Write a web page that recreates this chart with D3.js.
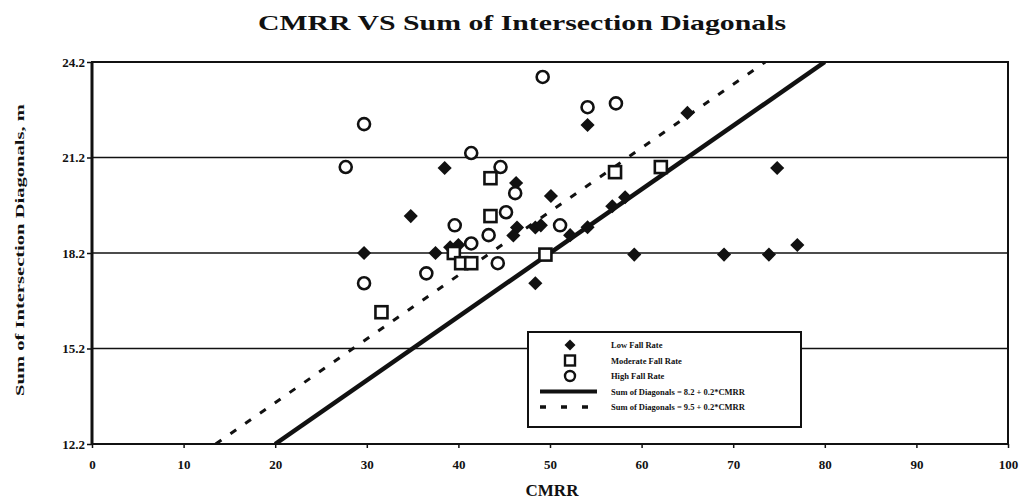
<!DOCTYPE html>
<html>
<head>
<meta charset="utf-8">
<script src="https://cdn.jsdelivr.net/npm/d3@7"></script>
<style>
    body { margin: 0; background: #fff; }
    text { font-family: "Liberation Serif", "DejaVu Serif", serif; font-weight: bold; fill: #111; }
</style>
</head>
<body>
<div id="chart"></div>
<script>
// fall rate groups: [CMRR, sum of diagonals]
var lowFall = [
    [29.7, 18.2], [34.8, 19.36], [37.5, 18.2], [38.5, 20.87], [39.1, 18.38],
    [40.0, 18.45], [46.3, 20.4], [46.4, 19.0], [46.0, 18.75], [48.4, 19.0],
    [49.0, 19.07], [50.1, 19.99], [52.2, 18.76], [54.1, 19.01], [48.4, 17.25],
    [54.1, 22.22], [56.8, 19.67], [58.2, 19.95], [59.2, 18.15], [65.0, 22.6],
    [69.0, 18.15], [73.9, 18.15], [74.8, 20.87], [77.0, 18.45]
];
var moderateFall = [
    [31.6, 16.34], [39.5, 18.2], [40.3, 17.88], [41.4, 17.88], [43.5, 19.36],
    [43.5, 20.55], [49.5, 18.15], [57.1, 20.74], [62.1, 20.9]
];
var highFall = [
    [27.7, 20.9], [29.7, 22.25], [29.7, 17.25], [36.5, 17.56], [39.6, 19.07],
    [41.4, 18.5], [41.4, 21.34], [44.6, 20.9], [43.3, 18.76], [44.3, 17.88],
    [45.2, 19.48], [46.2, 20.08], [49.2, 23.73], [51.1, 19.07], [54.1, 22.78],
    [57.2, 22.9]
];

// fitted lines: intercept + slope * CMRR
var solidFit = { a: 8.2, b: 0.2 };
var dashedFit = { a: 9.5, b: 0.2 };

var xTicks = [0, 10, 20, 30, 40, 50, 60, 70, 80, 90, 100];
var yTicks = [12.2, 15.2, 18.2, 21.2, 24.2];
var legendLabels = ["Low Fall Rate", "Moderate Fall Rate", "High Fall Rate",
    "Sum of Diagonals = 8.2 + 0.2*CMRR", "Sum of Diagonals = 9.5 + 0.2*CMRR"];

var width = 1022, height = 504;
var plotLeft = 92, plotRight = 1008, plotTop = 62, plotBottom = 444;

var svg = d3.select("#chart").append("svg")
    .attr("width", width)
    .attr("height", height);

var xScale = d3.scaleLinear().domain([0, 100]).range([plotLeft, plotRight]);
var yScale = d3.scaleLinear().domain([12.2, 24.2]).range([plotBottom, plotTop]);

svg.append("clipPath").attr("id", "plot-clip")
    .append("rect")
    .attr("x", plotLeft).attr("y", plotTop)
    .attr("width", plotRight - plotLeft).attr("height", plotBottom - plotTop);

/* title */
svg.append("text")
    .attr("x", 522)
    .attr("y", 30)
    .attr("text-anchor", "middle")
    .attr("textLength", 528)
    .attr("lengthAdjust", "spacingAndGlyphs")
    .style("font-size", "22px")
    .text("CMRR VS Sum of Intersection Diagonals");

/* grid */
svg.selectAll(".grid")
    .data(yTicks.slice(1, -1))
    .enter()
    .append("line")
    .attr("class", "grid")
    .attr("x1", plotLeft).attr("x2", plotRight)
    .attr("y1", function (d) { return yScale(d); })
    .attr("y2", function (d) { return yScale(d); })
    .attr("stroke", "#111")
    .attr("stroke-width", 1.4);

/* axes */
svg.append("g")
    .attr("transform", "translate(0," + plotBottom + ")")
    .attr("class", "x axis")
    .call(d3.axisBottom(xScale).tickValues(xTicks).tickSize(4).tickPadding(12)
        .tickFormat(d3.format("d")));

svg.append("g")
    .attr("transform", "translate(" + plotLeft + ",0)")
    .attr("class", "y axis")
    .call(d3.axisLeft(yScale).tickValues(yTicks).tickSize(5).tickPadding(2)
        .tickFormat(d3.format(".1f")));

svg.selectAll(".axis path").remove();
svg.selectAll(".axis line").attr("stroke", "#111").attr("stroke-width", 1.5);
svg.selectAll(".axis text").style("font-size", "13px").attr("fill", "#111");

/* frame */
svg.append("rect")
    .attr("x", plotLeft).attr("y", plotTop)
    .attr("width", plotRight - plotLeft).attr("height", plotBottom - plotTop)
    .attr("fill", "none")
    .attr("stroke", "#111")
    .attr("stroke-width", 2);
svg.append("line")
    .attr("x1", plotLeft).attr("x2", plotLeft)
    .attr("y1", plotTop).attr("y2", plotBottom)
    .attr("stroke", "#111").attr("stroke-width", 3);

/* axis titles */
svg.append("text")
    .attr("x", 552)
    .attr("y", 496)
    .attr("text-anchor", "middle")
    .style("font-size", "17px")
    .text("CMRR");

svg.append("text")
    .attr("transform", "translate(24," + 250 + ") rotate(-90)")
    .attr("text-anchor", "middle")
    .attr("textLength", 292)
    .attr("lengthAdjust", "spacingAndGlyphs")
    .style("font-size", "13px")
    .text("Sum of Intersection Diagonals, m");

/* fitted lines */
function fitLine(f) {
    var x0 = (12.2 - f.a) / f.b, x1 = (24.2 - f.a) / f.b;
    return [[x0, 12.2], [x1, 24.2]];
}
var line = d3.line()
    .x(function (d) { return xScale(d[0]); })
    .y(function (d) { return yScale(d[1]); });

svg.append("path")
    .attr("d", line(fitLine(dashedFit)))
    .attr("clip-path", "url(#plot-clip)")
    .attr("fill", "none")
    .attr("stroke", "#111")
    .attr("stroke-width", 3)
    .attr("stroke-dasharray", "7,11");

svg.append("path")
    .attr("d", line(fitLine(solidFit)))
    .attr("clip-path", "url(#plot-clip)")
    .attr("fill", "none")
    .attr("stroke", "#111")
    .attr("stroke-width", 4.5);

/* markers */
var diamond = d3.symbol().type(d3.symbolSquare).size(100);

svg.selectAll(".low")
    .data(lowFall)
    .enter()
    .append("path")
    .attr("class", "low")
    .attr("d", diamond)
    .attr("transform", function (d) {
        return "translate(" + xScale(d[0]) + "," + yScale(d[1]) + ") rotate(45)";
    })
    .attr("fill", "#111");

svg.selectAll(".moderate")
    .data(moderateFall)
    .enter()
    .append("rect")
    .attr("class", "moderate")
    .attr("x", function (d) { return xScale(d[0]) - 6; })
    .attr("y", function (d) { return yScale(d[1]) - 6; })
    .attr("width", 12).attr("height", 12)
    .attr("fill", "#fff")
    .attr("stroke", "#111")
    .attr("stroke-width", 2.6);

svg.selectAll(".high")
    .data(highFall)
    .enter()
    .append("circle")
    .attr("class", "high")
    .attr("cx", function (d) { return xScale(d[0]); })
    .attr("cy", function (d) { return yScale(d[1]); })
    .attr("r", 6)
    .attr("fill", "#fff")
    .attr("stroke", "#111")
    .attr("stroke-width", 2.6);

/* legend */
var legend = svg.append("g").attr("transform", "translate(528,332)");
legend.append("rect")
    .attr("width", 273).attr("height", 95)
    .attr("fill", "#fff")
    .attr("stroke", "#111")
    .attr("stroke-width", 2);

var rowY = function (i) { return 13 + i * 15.5; };

legend.append("path")
    .attr("d", d3.symbol().type(d3.symbolSquare).size(60))
    .attr("transform", "translate(42," + rowY(0) + ") rotate(45)")
    .attr("fill", "#111");
legend.append("rect")
    .attr("x", 37).attr("y", rowY(1) - 5)
    .attr("width", 10).attr("height", 10)
    .attr("fill", "#fff").attr("stroke", "#111").attr("stroke-width", 2.4);
legend.append("circle")
    .attr("cx", 42).attr("cy", rowY(2)).attr("r", 5)
    .attr("fill", "#fff").attr("stroke", "#111").attr("stroke-width", 2.4);
legend.append("line")
    .attr("x1", 12).attr("x2", 69)
    .attr("y1", rowY(3)).attr("y2", rowY(3))
    .attr("stroke", "#111").attr("stroke-width", 4);
legend.append("line")
    .attr("x1", 12).attr("x2", 69)
    .attr("y1", rowY(4)).attr("y2", rowY(4))
    .attr("stroke", "#111").attr("stroke-width", 3.5)
    .attr("stroke-dasharray", "6,15");

legend.selectAll(".legend-label")
    .data(legendLabels)
    .enter()
    .append("text")
    .attr("class", "legend-label")
    .attr("x", 83)
    .attr("y", function (d, i) { return rowY(i) + 3; })
    .style("font-size", "8.5px")
    .text(function (d) { return d; });
</script>
</body>
</html>
